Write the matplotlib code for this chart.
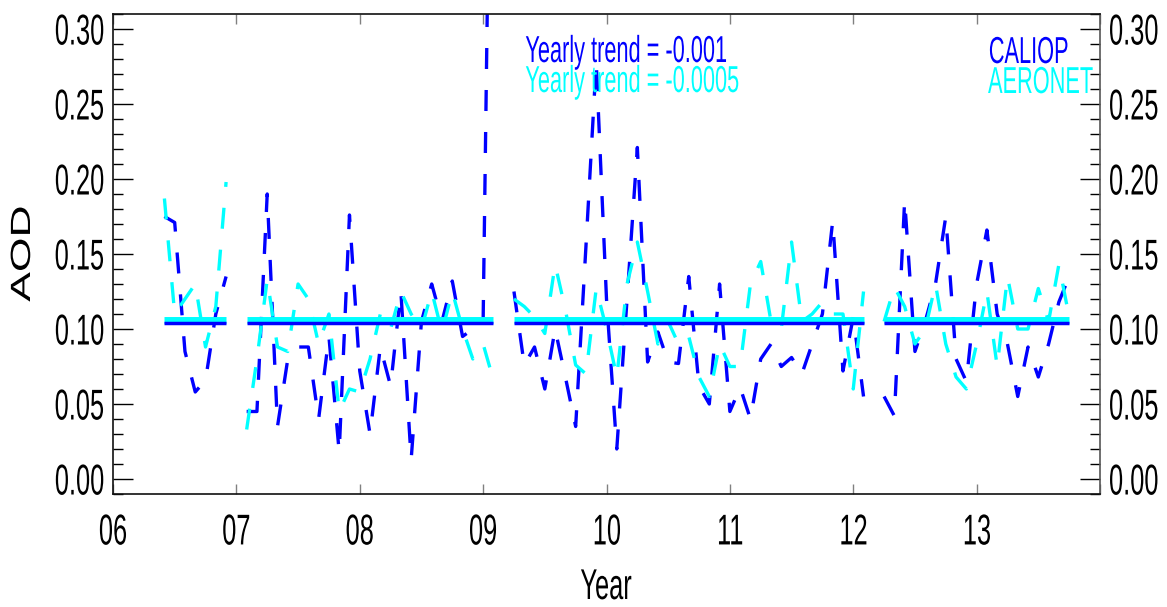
import numpy as np
import pandas as pd
import matplotlib
matplotlib.use('Agg')
import matplotlib.pyplot as plt
from matplotlib.patheffects import AbstractPathEffect
from matplotlib.transforms import Affine2D
from matplotlib.ticker import MultipleLocator

# Monthly mean AOD, Jun 2006 - Oct 2013 (nan = no data that month)
months = pd.date_range('2006-06-01', '2013-10-01', freq='MS')
nan = np.nan
caliop = [
    0.175, 0.171, 0.085, 0.058, 0.066, 0.110, 0.135,                                # 2006
    nan, 0.045, 0.045, 0.190, 0.035, 0.080, 0.088, 0.088, 0.040, 0.095, 0.018, 0.176,  # 2007
    0.072, 0.030, 0.088, 0.062, 0.125, 0.013, 0.105, 0.130, 0.105, 0.132, 0.095, 0.100,  # 2008
    0.105, 0.620, nan, 0.125, 0.076, 0.088, 0.060, 0.100, 0.068, 0.035, 0.155, 0.278,  # 2009
    0.120, 0.020, 0.120, 0.221, 0.078, 0.098, 0.078, 0.077, 0.135, 0.062, 0.050, 0.130,  # 2010
    0.045, 0.061, 0.040, 0.080, 0.090, 0.075, 0.081, 0.070, 0.090, 0.110, 0.172, 0.072,  # 2011
    0.108, 0.055, nan, 0.055, 0.042, 0.186, 0.085, 0.105, 0.130, 0.175, 0.080, 0.065,  # 2012
    0.130, 0.166, 0.110, 0.090, 0.055, 0.088, 0.068, 0.090, 0.118, 0.135,              # 2013
]
aeronet = [
    0.187, 0.110, 0.120, 0.130, 0.088, 0.115, 0.198,
    nan, 0.033, 0.080, 0.133, 0.088, 0.085, 0.130, 0.120, 0.090, 0.110, 0.045, 0.060,
    0.058, 0.080, 0.110, 0.100, 0.125, 0.110, 0.100, 0.125, 0.098, 0.125, 0.100, 0.080,
    0.090, 0.066, nan, 0.120, 0.115, 0.108, 0.097, 0.143, 0.113, 0.076, 0.070, 0.127,
    0.100, 0.068, 0.130, 0.158, 0.125, 0.090, 0.105, 0.090, 0.095, 0.068, 0.055, 0.090,
    0.075, 0.075, 0.130, 0.145, 0.105, 0.100, 0.158, 0.105, 0.110, 0.118, 0.110, 0.110,
    0.060, 0.125, nan, 0.105, 0.128, 0.115, 0.090, 0.100, 0.130, 0.090, 0.068, 0.060,
    0.090, 0.125, 0.075, 0.135, 0.100, 0.100, 0.127, 0.105, 0.143, 0.108,
]
caliop_mean = 0.1043
aeronet_mean = 0.106
caliop_text = 'Yearly trend = -0.001'
aeronet_text = 'Yearly trend = -0.0005'

year_ticks = [6, 7, 8, 9, 10, 11, 12, 13, 14]
year_labels = ['06', '07', '08', '09', '10', '11', '12', '13', '']
aod_ticks = [0.0, 0.05, 0.10, 0.15, 0.20, 0.25, 0.30]
aod_labels = ['0.00', '0.05', '0.10', '0.15', '0.20', '0.25', '0.30']

BLUE = '#0000ff'
CYAN = '#00ffff'


class Squeeze(AbstractPathEffect):
    """Scale text along its baseline; the original plot uses a condensed font."""
    def __init__(self, sx, anchor=0.0):
        super().__init__()
        self.sx = sx
        self.anchor = anchor

    def draw_path(self, renderer, gc, tpath, affine, rgbFace=None):
        ext = tpath.get_extents()
        px = ext.x0 + self.anchor * ext.width
        squeeze = Affine2D().translate(-px, 0).scale(self.sx, 1).translate(px, 0)
        renderer.draw_path(gc, tpath, squeeze + affine, rgbFace)


plt.rcParams['font.family'] = 'Liberation Sans'

W, H = 1167, 607
fig = plt.figure(figsize=(W / 100, H / 100), dpi=100)
ax = fig.add_axes([113 / W, 1 - 494 / H, (1100 - 113) / W, (494 - 14) / H])

x = months.year - 2000 + (months.month - 1) / 12
caliop = np.array(caliop)
aeronet = np.array(aeronet)

dash = (0, (6.3, 6.3))
ax.plot(x, caliop, color=BLUE, lw=2.4, linestyle=dash, dash_capstyle='butt')
ax.plot(x, aeronet, color=CYAN, lw=2.4, linestyle=dash, dash_capstyle='butt')

# mean lines over each continuous stretch of data
valid = ~np.isnan(caliop)
edges = np.flatnonzero(np.diff(np.r_[0, valid.astype(int), 0])).reshape(-1, 2)
for a, b in edges:
    ax.plot([x[a], x[b - 1]], [aeronet_mean] * 2, color=CYAN, lw=5, solid_capstyle='butt')
for a, b in edges:
    ax.plot([x[a], x[b - 1]], [caliop_mean] * 2, color=BLUE, lw=2.5, solid_capstyle='butt')

ax.set_xlim(6, 14)
ax.set_ylim(-0.01, 0.31)
ax.set_xticks(year_ticks)
ax.set_xticklabels(year_labels)
ax.set_yticks(aod_ticks)
ax.set_yticklabels(aod_labels)
ax.yaxis.set_minor_locator(MultipleLocator(0.01))

ax.tick_params(axis='y', which='major', direction='in', length=14.4, width=1.0,
               left=True, right=True, labelleft=True, labelright=True,
               labelsize=31, pad=6)
ax.tick_params(axis='y', which='minor', direction='in', length=7.2, width=1.0,
               left=True, right=True)
ax.tick_params(axis='x', which='major', direction='in', length=7.2, width=1.0,
               color='#808080', top=True, bottom=True, labelsize=31, pad=14)

for sp in ax.spines.values():
    sp.set_linewidth(1.2)
    sp.set_color('#111111')
ax.spines['right'].set_color('#555555')

for t in ax.yaxis.get_major_ticks():
    t.label1.set_path_effects([Squeeze(0.59, 1.0)])
    t.label2.set_path_effects([Squeeze(0.59, 0.0)])
for t in ax.xaxis.get_major_ticks():
    t.label1.set_path_effects([Squeeze(0.59, 0.5)])

fig.text(23 / W, 1 - 254 / H, 'AOD', rotation=90, ha='center', va='center',
         fontsize=20, path_effects=[Squeeze(1.6, 0.5)])
fig.text(606 / W, 1 - 599 / H, 'Year', ha='center', va='baseline',
         fontsize=31, path_effects=[Squeeze(0.59, 0.5)])

fig.text(525 / W, 1 - 62 / H, caliop_text, color=BLUE, ha='left', va='baseline',
         fontsize=27, path_effects=[Squeeze(0.58, 0.0)])
fig.text(525 / W, 1 - 92 / H, aeronet_text, color=CYAN, ha='left', va='baseline',
         fontsize=27, path_effects=[Squeeze(0.58, 0.0)])
fig.text(988 / W, 1 - 63 / H, 'CALIOP', color=BLUE, ha='left', va='baseline',
         fontsize=27, path_effects=[Squeeze(0.58, 0.0)])
fig.text(988 / W, 1 - 93 / H, 'AERONET', color=CYAN, ha='left', va='baseline',
         fontsize=27, path_effects=[Squeeze(0.58, 0.0)])

fig.savefig('out.png', dpi=100, facecolor='white')
